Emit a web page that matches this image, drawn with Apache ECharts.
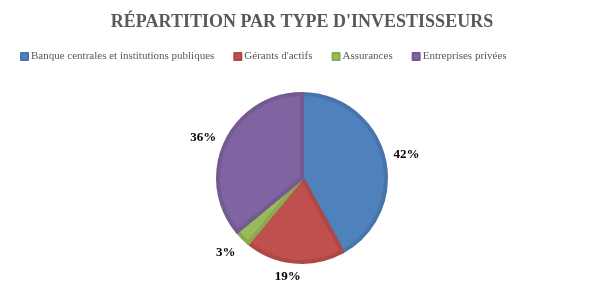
<!DOCTYPE html>
<html><head><meta charset="utf-8">
<script src="https://cdn.jsdelivr.net/npm/echarts@6/dist/echarts.min.js"></script>
<style>html,body{margin:0;padding:0;background:#fff}#c{width:604px;height:292px}</style>
</head><body><div id="c"></div>
<script>
const titleText = "RÉPARTITION PAR TYPE D'INVESTISSEURS";
const categories = ["Banque centrales et institutions publiques", "Gérants d'actifs", "Assurances", "Entreprises privées"];
const values = [42, 19, 3, 36];
const colors = ["#4F81BD", "#C0504D", "#9BBB59", "#8064A2"];
const borders = ["#4674AB", "#AD4845", "#8BA950", "#735B92"];
const labelOffsets = [[0, 3], [-4, -9], [0, -2], [-1, 6]];

const chart = echarts.init(document.getElementById('c'), null, {renderer: 'canvas'});
const mainData = categories.map((n, i) => ({
  name: n, value: values[i],
  itemStyle: {color: colors[i], borderColor: borders[i]}
}));
const labelData = categories.map((n, i) => ({name: n, value: values[i], label: {offset: labelOffsets[i]}}));
chart.setOption({
  animation: false,
  title: {
    text: titleText, left: 'center', top: 8,
    textStyle: {fontFamily: 'Liberation Serif', fontWeight: 'bold', fontSize: 18, color: '#595959'}
  },
  legend: {
    left: 15, top: 46, itemWidth: 7, itemHeight: 7, itemGap: 19,
    icon: 'rect',
    textStyle: {fontFamily: 'Liberation Serif', fontSize: 11, color: '#595959', padding: [0, 0, 0, -2]},
    data: categories
  },
  series: [{
    type: 'pie', center: [302, 178], radius: 84, startAngle: 90, clockwise: true,
    silent: true,
    itemStyle: {borderWidth: 4, borderJoin: 'round'},
    label: {show: false}, labelLine: {show: false},
    data: mainData
  }, {
    type: 'pie', center: [302, 178], radius: [90, 120], startAngle: 90, clockwise: true,
    silent: true, color: colors,
    itemStyle: {color: 'rgba(0,0,0,0)'},
    label: {
      show: true, position: 'inside', formatter: '{c}%',
      fontFamily: 'Liberation Serif', fontWeight: 'bold', fontSize: 13, color: '#000'
    },
    labelLine: {show: false},
    data: labelData
  }]
});
</script></body></html>
